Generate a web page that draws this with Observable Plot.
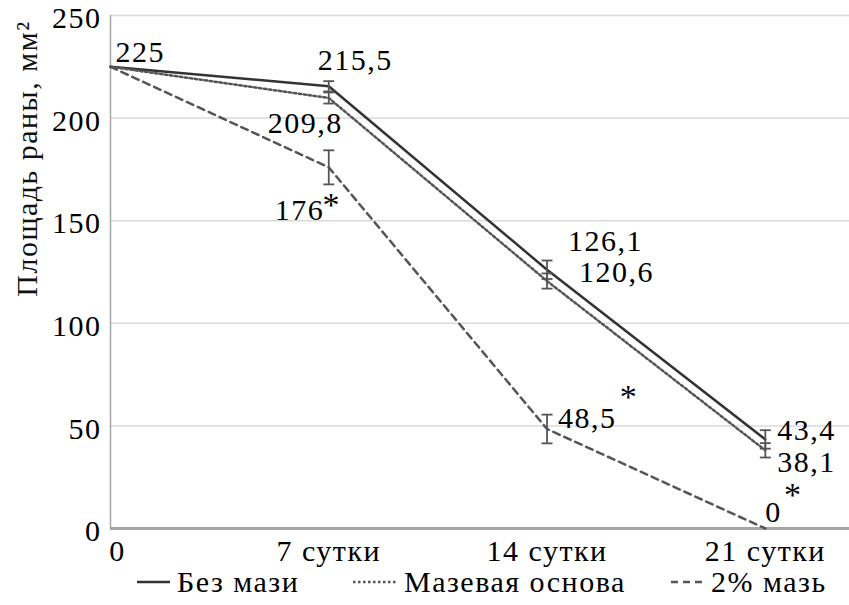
<!DOCTYPE html>
<html>
<head>
<meta charset="utf-8">
<script src="https://cdn.jsdelivr.net/npm/d3@7"></script>
<script src="https://cdn.jsdelivr.net/npm/@observablehq/plot@0.6"></script>
<style>
  html, body { margin: 0; padding: 0; background: #fff; }
  #chart { width: 849px; height: 565px; }
  #chart svg { display: block; }
  .legend {
    position: relative; width: 849px; height: 40px;
    font-family: "Liberation Serif", "Times New Roman", Tinos, "Nimbus Roman", FreeSerif, "Noto Serif", "DejaVu Serif", serif;
    font-size: 30px; letter-spacing: 1.5px; color: #000;
  }
  .legend .item { position: absolute; top: 0; display: flex; align-items: center; height: 34px; white-space: nowrap; }
  .legend svg { margin-right: 7px; }
</style>
</head>
<body>
<div id="chart"></div>
<div class="legend" id="legend"></div>
<script>
// Wound area (mm²) over the course of treatment
const days = [0, 7, 14, 21];
const dayTicks = ["0", "7 сутки", "14 сутки", "21 сутки"];
const seriesNames = ["Без мази", "Мазевая основа", "2% мазь"];
const areaNoOintment = [225, 215.5, 126.1, 43.4];
const areaBase = [225, 209.8, 120.6, 38.1];
const areaOintment2 = [225, 176, 48.5, 0];
const errNoOintment = [0, 2.5, 4.5, 4.5];
const errBase = [0, 2.7, 3.7, 3.5];
const errOintment2 = [0, 8.3, 7, 0];
const significant2 = [false, true, true, true];
const yTicks = [0, 50, 100, 150, 200, 250];

const values = [areaNoOintment, areaBase, areaOintment2];
const errors = [errNoOintment, errBase, errOintment2];

const rows = seriesNames.flatMap((s, k) =>
  days.map((d, i) => ({series: s, day: d, value: values[k][i], err: errors[k][i], i}))
);

const font = "Liberation Serif, Times New Roman, Tinos, Nimbus Roman, FreeSerif, Noto Serif, DejaVu Serif, serif";
const fs = 30;
const lineGray = "#555";

// line styles per series
const dashes = ["none", "2.5,2.5", "7,5"];
const strokes = ["#333", "#555", "#555"];

// label offsets (dx, dy) from each point, null = no label
const labelOffsets = [
  [[5, -14], [-11, -26], [21, -28], [12, -9]],
  [null, [-61, 25], [32, -9], [12, 12]],
  [null, [-54, 43], [11, -11], [0, -16]]
];
// asterisk offsets for significant points of the 2% series
const starOffsets = [null, [3, 38], [82, -32], [28, -33]];

const fmt = v => String(v).replace(".", ",");

// horizontal cap symbol for the error bars
const capSymbol = {
  draw(context, size) {
    const w = Math.sqrt(size) / 2;
    context.moveTo(-w, 0);
    context.lineTo(w, 0);
  }
};

const marks = [
  Plot.gridY(yTicks.filter(t => t > 0), {stroke: "#dadada", strokeOpacity: 1, strokeWidth: 1.5}),
  Plot.ruleX([0], {y1: 0, y2: 250, stroke: "#a6a6a6", strokeWidth: 1.5}),
  Plot.ruleY([0], {stroke: "#a6a6a6", strokeWidth: 3}),
  Plot.axisY({ticks: yTicks, tickSize: 0, tickPadding: 9, label: null, fontSize: fs, fontFamily: font, dy: 3}),
  Plot.axisX({ticks: days.slice(1), tickFormat: d => dayTicks[days.indexOf(d)], tickSize: 0, tickPadding: 11, label: null, fontSize: fs, fontFamily: font}),
  Plot.axisX({ticks: days.slice(0, 1), tickFormat: d => dayTicks[days.indexOf(d)], tickSize: 0, tickPadding: 11, label: null, fontSize: fs, fontFamily: font, dx: 7})
];

seriesNames.forEach((s, k) => {
  const data = rows.filter(r => r.series === s);
  marks.push(Plot.line(data, {x: "day", y: "value", stroke: strokes[k], strokeWidth: 2.5, strokeDasharray: dashes[k]}));
  const eb = data.filter(r => r.err > 0);
  marks.push(Plot.ruleX(eb, {x: "day", y1: r => r.value - r.err, y2: r => r.value + r.err, stroke: lineGray, strokeWidth: 1.8}));
  marks.push(Plot.dot(eb, {x: "day", y: r => r.value - r.err, symbol: capSymbol, r: 6.2, stroke: lineGray, strokeWidth: 1.8, fill: "none"}));
  marks.push(Plot.dot(eb, {x: "day", y: r => r.value + r.err, symbol: capSymbol, r: 6.2, stroke: lineGray, strokeWidth: 1.8, fill: "none"}));
});

seriesNames.forEach((s, k) => {
  const data = rows.filter(r => r.series === s);
  data.forEach((r, i) => {
    const off = labelOffsets[k][i];
    if (!off) return;
    marks.push(Plot.text([r], {x: "day", y: "value", text: d => fmt(d.value), dx: off[0], dy: off[1],
      textAnchor: "start", lineAnchor: "middle", fontSize: fs, fontFamily: font, fill: "#000"}));
  });
});

rows.filter(r => r.series === seriesNames[2] && significant2[r.i]).forEach(r => {
  const off = starOffsets[r.i];
  marks.push(Plot.text([r], {x: "day", y: "value", text: () => "*", dx: off[0], dy: off[1],
    textAnchor: "middle", lineAnchor: "middle", fontSize: 34, fontFamily: font, fill: "#000"}));
});

// y-axis title
marks.push(Plot.text(["Площадь раны, мм²"], {frameAnchor: "top-left", rotate: -90, dx: -83, dy: 143,
  textAnchor: "middle", lineAnchor: "middle", fontSize: fs, fontFamily: font, fill: "#111"}));

const chart = Plot.plot({
  width: 849,
  height: 565,
  marginTop: 15,
  marginBottom: 37,
  marginLeft: 110,
  marginRight: 0,
  style: {fontFamily: font, fontSize: fs + "px", letterSpacing: "1.5px", color: "#000", background: "#fff", overflow: "visible"},
  x: {domain: [0, 23.7], axis: null},
  y: {domain: [0, 250], axis: null},
  marks
});
document.getElementById("chart").appendChild(chart);

// legend with line swatches
const legendLeft = [137, 353, 671];
const legend = document.getElementById("legend");
seriesNames.forEach((s, k) => {
  const item = document.createElement("div");
  item.className = "item";
  item.style.left = legendLeft[k] + "px";
  const w = k === 1 ? 44 : 33;
  const sw = d3.create("svg").attr("width", w).attr("height", 10);
  sw.append("line").attr("x1", 0).attr("x2", w).attr("y1", 5).attr("y2", 5)
    .attr("stroke", strokes[k]).attr("stroke-width", 2.5)
    .attr("stroke-dasharray", dashes[k] === "none" ? null : dashes[k]);
  item.appendChild(sw.node());
  const label = document.createElement("span");
  label.textContent = s;
  item.appendChild(label);
  legend.appendChild(item);
});
</script>
</body>
</html>
